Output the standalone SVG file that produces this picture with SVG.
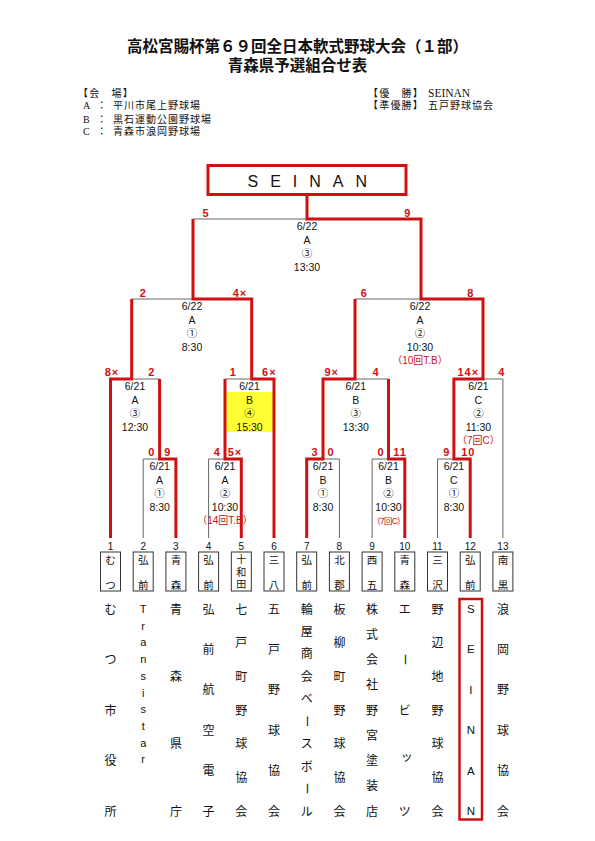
<svg xmlns="http://www.w3.org/2000/svg" width="595" height="841" viewBox="0 0 595 841">
<style>
.title{font-family:"Liberation Serif","Noto Sans CJK JP",serif;font-size:15.5px;font-weight:bold;text-anchor:middle;fill:#111}
.v{font-family:"Liberation Serif","Noto Sans CJK JP",serif;font-size:10px;fill:#111}
.vl{letter-spacing:1px}
.t{font-family:"Liberation Sans","Noto Sans CJK JP",sans-serif;font-size:10.5px;text-anchor:middle;fill:#111}
.nt{font-family:"Liberation Sans","Noto Sans CJK JP",sans-serif;font-size:10px;text-anchor:middle;fill:#cc1111}
.s{font-family:"Liberation Sans","Noto Sans CJK JP",sans-serif;font-size:11px;font-weight:bold;text-anchor:middle;fill:#d01010;letter-spacing:1px}
.num{font-family:"Liberation Sans",sans-serif;font-size:10px;text-anchor:middle;fill:#111}
.sh{font-family:"Noto Sans CJK JP",sans-serif;font-size:10.5px;text-anchor:middle;fill:#111}
.ln{font-family:"Noto Sans CJK JP",sans-serif;font-size:12px;text-anchor:middle;fill:#111}
.lt{font-family:"Liberation Sans",sans-serif;font-size:11px;text-anchor:middle;fill:#111}
.box{fill:none;stroke:#333;stroke-width:1}
.g{fill:none;stroke:#666;stroke-width:1}
.r{fill:none;stroke:#d01010;stroke-width:3;stroke-linejoin:miter}
</style>
<rect width="595" height="841" fill="#fff"/>

<g id="header">
<text class="title" x="297.5" y="51.5">高松宮賜杯第６９回全日本軟式野球大会（１部）</text>
<text class="title" x="297.5" y="70.5">青森県予選組合せ表</text>
<text class="v" x="78" y="96.5" style="letter-spacing:1.2px">【会　場】</text>
<text class="v" x="83" y="109.3">A</text><text class="v" x="96.7" y="109.3">：</text><text class="v vl" x="113" y="109.3">平川市尾上野球場</text>
<text class="v" x="83" y="122.6">B</text><text class="v" x="96.7" y="122.6">：</text><text class="v vl" x="113" y="122.6">黒石運動公園野球場</text>
<text class="v" x="83" y="135">C</text><text class="v" x="96.7" y="135">：</text><text class="v vl" x="113" y="135">青森市浪岡野球場</text>
<text class="v" x="368" y="96.5" style="letter-spacing:1.2px">【優　勝】</text>
<text class="v" x="428" y="96.5" style="font-size:11.5px">SEINAN</text>
<text class="v" x="368" y="109.3" style="letter-spacing:1.2px">【準優勝】</text>
<text class="v vl" x="428" y="109.3">五戸野球協会</text>
</g>

<rect x="225" y="392" width="49" height="40" fill="#ffff33"/>

<g id="connectors">
<path class="g" d="M193 219H307M131.7 299H193M355 299H421M131.7 379H159.6M225 379H251.7M355 379H388.5M483 379H502.9V538M143.2 538V459H159.6M208.6 538V459H225M323 459H339.4V538M372.1 538V459H388.5M437.5 538V459H453.9"/>
<path class="r" d="M110.5 538V379H131.7V299"/>
<path class="r" d="M175.9 538V459H159.6V379"/>
<path class="r" d="M241.3 538V459H225V379"/>
<path class="r" d="M274 538V379H251.7V299H193V219"/>
<path class="r" d="M306.7 538V459H323V379H355V299"/>
<path class="r" d="M404.8 538V459H388.5V379"/>
<path class="r" d="M470.2 538V459H453.9V379H483V299H421V219H307V194"/>
</g>

<g id="champion">
<rect x="208" y="165.5" width="198" height="29" fill="#fff" stroke="#d01010" stroke-width="3"/>
<text x="247.5" y="186.7" style="font-family:'Liberation Sans',sans-serif;font-size:16px;letter-spacing:12px;fill:#111">SEINAN</text>
</g>

<g id="match-final">
<text class="s" x="206" y="216.5">5</text><text class="s" x="407.7" y="216.5">9</text>
<text class="t" x="307" y="230">6/22</text><text class="t" x="307" y="243.5">A</text><text class="t" x="307" y="257">③</text><text class="t" x="307" y="270.5">13:30</text>
</g>
<g id="match-semi-left">
<text class="s" x="143.3" y="296.5">2</text><text class="s" x="240" y="296.5">4×</text>
<text class="t" x="192" y="310">6/22</text><text class="t" x="192" y="323.5">A</text><text class="t" x="192" y="337">①</text><text class="t" x="192" y="350.5">8:30</text>
</g>
<g id="match-semi-right">
<text class="s" x="364.3" y="296.5">6</text><text class="s" x="470.7" y="296.5">8</text>
<text class="t" x="420" y="310">6/22</text><text class="t" x="420" y="323.5">A</text><text class="t" x="420" y="337">②</text><text class="t" x="420" y="350.5">10:30</text>
<text class="nt" x="420" y="364">（10回T.B）</text>
</g>
<g id="match-qf1">
<text class="s" x="112" y="376">8×</text><text class="s" x="151.7" y="376">2</text>
<text class="t" x="135" y="390">6/21</text><text class="t" x="135" y="403.5">A</text><text class="t" x="135" y="417">③</text><text class="t" x="135" y="430.5">12:30</text>
</g>
<g id="match-qf2">
<text class="s" x="233.3" y="376">1</text><text class="s" x="269.3" y="376">6×</text>
<text class="t" x="249.5" y="390">6/21</text><text class="t" x="249.5" y="403.5">B</text><text class="t" x="249.5" y="417">④</text><text class="t" x="249.5" y="430.5">15:30</text>
</g>
<g id="match-qf3">
<text class="s" x="331.7" y="376">9×</text><text class="s" x="376" y="376">4</text>
<text class="t" x="355.8" y="390">6/21</text><text class="t" x="355.8" y="403.5">B</text><text class="t" x="355.8" y="417">③</text><text class="t" x="355.8" y="430.5">13:30</text>
</g>
<g id="match-qf4">
<text class="s" x="468.3" y="376">14×</text><text class="s" x="501.7" y="376">4</text>
<text class="t" x="478.4" y="390">6/21</text><text class="t" x="478.4" y="403.5">C</text><text class="t" x="478.4" y="417">②</text><text class="t" x="478.4" y="430.5">11:30</text>
<text class="nt" x="478.4" y="444">（7回C）</text>
</g>
<g id="match-r1-2-3">
<text class="s" x="151.7" y="456">0</text><text class="s" x="167.7" y="456">9</text>
<text class="t" x="159.6" y="470">6/21</text><text class="t" x="159.6" y="483.5">A</text><text class="t" x="159.6" y="497">①</text><text class="t" x="159.6" y="510.5">8:30</text>
</g>
<g id="match-r1-4-5">
<text class="s" x="217.3" y="456">4</text><text class="s" x="235" y="456">5×</text>
<text class="t" x="225" y="470">6/21</text><text class="t" x="225" y="483.5">A</text><text class="t" x="225" y="497">②</text><text class="t" x="225" y="510.5">10:30</text>
<text class="nt" x="225" y="524">（14回T.B）</text>
</g>
<g id="match-r1-7-8">
<text class="s" x="315" y="456">3</text><text class="s" x="331" y="456">0</text>
<text class="t" x="323" y="470">6/21</text><text class="t" x="323" y="483.5">B</text><text class="t" x="323" y="497">①</text><text class="t" x="323" y="510.5">8:30</text>
</g>
<g id="match-r1-9-10">
<text class="s" x="381" y="456">0</text><text class="s" x="400" y="456">11</text>
<text class="t" x="388.5" y="470">6/21</text><text class="t" x="388.5" y="483.5">B</text><text class="t" x="388.5" y="497">②</text><text class="t" x="388.5" y="510.5">10:30</text>
<text class="nt" x="388.5" y="523.5" style="font-size:8.5px;letter-spacing:-0.8px">（7回C）</text>
</g>
<g id="match-r1-11-12">
<text class="s" x="446.7" y="456">9</text><text class="s" x="468.3" y="456">10</text>
<text class="t" x="453.9" y="470">6/21</text><text class="t" x="453.9" y="483.5">C</text><text class="t" x="453.9" y="497">①</text><text class="t" x="453.9" y="510.5">8:30</text>
</g>

<g id="team-1">
<text class="num" x="110.5" y="549.5">1</text><rect class="box" x="100.5" y="552" width="20" height="39"/>
<text class="sh" x="110.5 110.5" y="564 589">むつ</text>
<text class="ln" x="110.5 110.5 110.5 110.5 110.5" y="613.5 664 714.5 765 815.5">むつ市役所</text>
</g>
<g id="team-2">
<text class="num" x="143.2" y="549.5">2</text><rect class="box" x="133.2" y="552" width="20" height="39"/>
<text class="sh" x="143.2 143.2" y="564 589">弘前</text>
<text class="lt" x="143.2 143.2 143.2 143.2 143.2 143.2 143.2 143.2 143.2 143.2" y="613 629.7 646.4 663.1 679.8 696.5 713.2 729.9 746.6 763.3">Transistar</text>
</g>
<g id="team-3">
<text class="num" x="175.9" y="549.5">3</text><rect class="box" x="165.9" y="552" width="20" height="39"/>
<text class="sh" x="175.9 175.9" y="564 589">青森</text>
<text class="ln" x="175.9 175.9 175.9 175.9" y="613.5 680.8 748.2 815.5">青森県庁</text>
</g>
<g id="team-4">
<text class="num" x="208.6" y="549.5">4</text><rect class="box" x="198.6" y="552" width="20" height="39"/>
<text class="sh" x="208.6 208.6" y="564 589">弘前</text>
<text class="ln" x="208.6 208.6 208.6 208.6 208.6 208.6" y="613.5 653.9 694.3 734.7 775.1 815.5">弘前航空電子</text>
</g>
<g id="team-5">
<text class="num" x="241.3" y="549.5">5</text><rect class="box" x="231.3" y="552" width="20" height="39"/>
<text class="sh" x="241.3 241.3 241.3" y="563 575.5 588" style="font-size:10px">十和田</text>
<text class="ln" x="241.3 241.3 241.3 241.3 241.3 241.3 241.3" y="613.5 647.2 680.8 714.5 748.2 781.8 815.5">七戸町野球協会</text>
</g>
<g id="team-6">
<text class="num" x="274" y="549.5">6</text><rect class="box" x="264" y="552" width="20" height="39"/>
<text class="sh" x="274 274" y="564 589">三八</text>
<text class="ln" x="274 274 274 274 274 274" y="613.5 653.9 694.3 734.7 775.1 815.5">五戸野球協会</text>
</g>
<g id="team-7">
<text class="num" x="306.7" y="549.5">7</text><rect class="box" x="296.7" y="552" width="20" height="39"/>
<text class="sh" x="306.7 306.7" y="564 589">弘前</text>
<text class="ln" x="306.7 306.7 306.7 306.7 306.7" y="613.5 635.9 658.4 680.8 703.3">輪屋商会ベ</text>
<text class="ln" x="306.7" y="725.7" transform="rotate(90 306.7 721.2)">ー</text>
<text class="ln" x="306.7 306.7" y="748.2 770.6">スボ</text>
<text class="ln" x="306.7" y="793.1" transform="rotate(90 306.7 788.6)">ー</text>
<text class="ln" x="306.7" y="815.5">ル</text>
</g>
<g id="team-8">
<text class="num" x="339.4" y="549.5">8</text><rect class="box" x="329.4" y="552" width="20" height="39"/>
<text class="sh" x="339.4 339.4" y="564 589">北郡</text>
<text class="ln" x="339.4 339.4 339.4 339.4 339.4 339.4 339.4" y="613.5 647.2 680.8 714.5 748.2 781.8 815.5">板柳町野球協会</text>
</g>
<g id="team-9">
<text class="num" x="372.1" y="549.5">9</text><rect class="box" x="362.1" y="552" width="20" height="39"/>
<text class="sh" x="372.1 372.1" y="564 589">西五</text>
<text class="ln" x="372.1 372.1 372.1 372.1 372.1 372.1 372.1 372.1 372.1" y="613.5 638.75 664 689.25 714.5 739.75 765 790.25 815.5">株式会社野宮塗装店</text>
</g>
<g id="team-10">
<text class="num" x="404.8" y="549.5">10</text><rect class="box" x="394.8" y="552" width="20" height="39"/>
<text class="sh" x="404.8 404.8" y="564 589">青森</text>
<text class="ln" x="404.8" y="613.5">エ</text>
<text class="ln" x="404.8" y="664" transform="rotate(90 404.8 659.5)">ー</text>
<text class="ln" x="404.8 406.8 404.8" y="714.5 761 815.5">ビッツ</text>
</g>
<g id="team-11">
<text class="num" x="437.5" y="549.5">11</text><rect class="box" x="427.5" y="552" width="20" height="39"/>
<text class="sh" x="437.5 437.5" y="564 589">三沢</text>
<text class="ln" x="437.5 437.5 437.5 437.5 437.5 437.5 437.5" y="613.5 647.2 680.8 714.5 748.2 781.8 815.5">野辺地野球協会</text>
</g>
<g id="team-12">
<text class="num" x="470.2" y="549.5">12</text><rect class="box" x="460.2" y="552" width="20" height="39"/>
<text class="sh" x="470.2 470.2" y="564 589">弘前</text>
<rect x="459.5" y="599" width="22.5" height="220.5" fill="none" stroke="#d01010" stroke-width="2.5"/>
<text class="lt" x="470.8 470.8 470.8 470.8 470.8 470.8" y="613 653.4 693.8 734.2 774.6 815" style="font-size:11.5px">SEINAN</text>
</g>
<g id="team-13">
<text class="num" x="502.9" y="549.5">13</text><rect class="box" x="492.9" y="552" width="20" height="39"/>
<text class="sh" x="502.9 502.9" y="564 589">南黒</text>
<text class="ln" x="502.9 502.9 502.9 502.9 502.9 502.9" y="613.5 653.9 694.3 734.7 775.1 815.5">浪岡野球協会</text>
</g>
</svg>
